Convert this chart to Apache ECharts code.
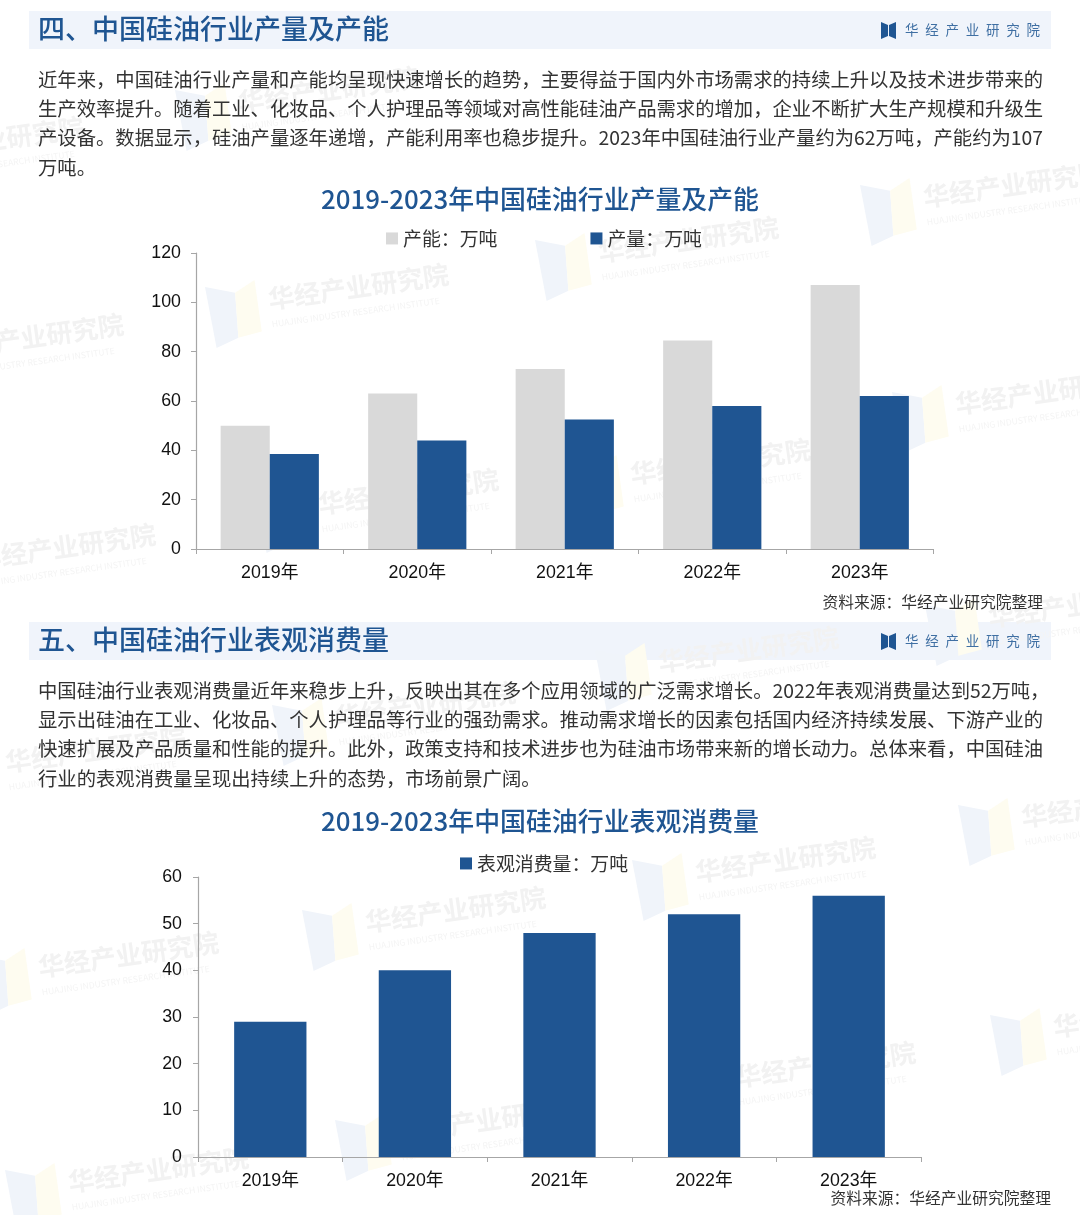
<!DOCTYPE html>
<html lang="zh">
<head>
<meta charset="utf-8">
<title>中国硅油行业</title>
<style>html,body{margin:0;padding:0;background:#fff}#c{width:1080px;height:1215px}</style>
<script src="https://cdn.jsdelivr.net/npm/echarts@6/dist/echarts.min.js"></script>
</head>
<body>
<div id="c"></div>
<script>
const years1 = ['2019年','2020年','2021年','2022年','2023年'];
const capacity = [50, 63, 73, 84.5, 107];
const production = [38.5, 44, 52.5, 58, 62];
const years2 = ['2019年','2020年','2021年','2022年','2023年'];
const consumption = [29, 40, 48, 52, 56];

const section1Title = '四、中国硅油行业产量及产能';
const section2Title = '五、中国硅油行业表观消费量';
const chart1Title = '2019-2023年中国硅油行业产量及产能';
const chart2Title = '2019-2023年中国硅油行业表观消费量';
const sourceText = '资料来源：华经产业研究院整理';
const brandText = '华\u2002经\u2002产\u2002业\u2002研\u2002究\u2002院';
const para1 = [
 '近年来，中国硅油行业产量和产能均呈现快速增长的趋势，主要得益于国内外市场需求的持续上升以及技术进步带来的',
 '生产效率提升。随着工业、化妆品、个人护理品等领域对高性能硅油产品需求的增加，企业不断扩大生产规模和升级生',
 '产设备。数据显示，硅油产量逐年递增，产能利用率也稳步提升。2023年中国硅油行业产量约为62万吨，产能约为107',
 '万吨。'
];
const para2 = [
 '中国硅油行业表观消费量近年来稳步上升，反映出其在多个应用领域的广泛需求增长。2022年表观消费量达到52万吨，',
 '显示出硅油在工业、化妆品、个人护理品等行业的强劲需求。推动需求增长的因素包括国内经济持续发展、下游产业的',
 '快速扩展及产品质量和性能的提升。此外，政策支持和技术进步也为硅油市场带来新的增长动力。总体来看，中国硅油',
 '行业的表观消费量呈现出持续上升的态势，市场前景广阔。'
];
const wmName = '华经产业研究院';
const wmSub = 'HUAJING INDUSTRY RESEARCH INSTITUTE';

const CJK = '"Noto Sans CJK SC","Noto Sans",sans-serif';
const LAT = '"Liberation Sans","Noto Sans CJK SC",sans-serif';
const BLUE = '#1f5592', GRAY = '#d9d9d9', AXIS = '#a6a6a6';

const wmSpots = [[175,90],[-160,140],[205,287],[535,240],[860,185],[-120,337],[892,392],[567,462],[255,492],[-88,547],
 [595,650],[925,605],[272,705],[-58,750],[632,860],[302,910],[-25,955],[958,805],[990,1015],[672,1065],[335,1120],[5,1170]];

function watermark(p){
  return {type:'group',x:p[0],y:p[1],rotation:8*Math.PI/180,z:-10,silent:true,children:[
    {type:'polygon',z:-10,shape:{points:[[0,0],[29,10],[26,55],[3,62]]},style:{fill:'#f0f4fa'}},
    {type:'polygon',z:-10,shape:{points:[[29,10],[50,0],[50,52],[26,55]]},style:{fill:'#fefcf0'}},
    {type:'text',z:-10,x:61,y:21,style:{text:wmName,font:'bold 26px '+CJK,fill:'#f2f2f2',verticalAlign:'middle'}},
    {type:'text',z:-10,x:61,y:46,style:{text:wmSub,font:'8.6px '+CJK,fill:'#f4f4f4',verticalAlign:'middle'}}
  ]};
}
function txt(x,y,t,font,fill,align){
  return {type:'text',x:x,y:y,z:5,style:{text:t,font:font,fill:fill,align:align||'left',verticalAlign:'middle'}};
}
function header(y,t){
  return [
    {type:'rect',z:-20,shape:{x:29,y:y,width:1022,height:38},style:{fill:'#f0f4fb'}},
    txt(38,y+18,t,'500 27px '+CJK,BLUE),
    {type:'polygon',z:5,shape:{points:[[881,y+11],[888,y+14],[888,y+25],[881,y+28]]},style:{fill:BLUE}},
    {type:'polygon',z:5,shape:{points:[[896,y+11],[889,y+14],[889,y+25],[896,y+28]]},style:{fill:BLUE}},
    txt(905,y+19,brandText,'13.5px '+CJK,'#3f6fa3')
  ];
}
function para(lines,ys){
  return lines.map((l,i)=>txt(38,ys[i],l,'19.33px '+CJK,'#333333'));
}

const graphics = [].concat(
  wmSpots.map(watermark),
  header(11,section1Title),
  header(622,section2Title),
  para(para1,[80,109,138,168]),
  para(para2,[691,720,749,779]),
  [txt(1043,602,sourceText,'15.75px '+CJK,'#333333','right'),
   txt(1051,1198,sourceText,'15.75px '+CJK,'#333333','right')]
);

function xAx(idx,data){
  return {type:'category',gridIndex:idx,data:data,
    axisLine:{show:true,lineStyle:{color:AXIS,width:1.2}},
    axisTick:{show:true,alignWithLabel:false,length:5,lineStyle:{color:AXIS}},
    axisLabel:{color:'#111',fontFamily:LAT,fontSize:17.8,margin:15}};
}
function yAx(idx,max,step,margin){
  return {type:'value',gridIndex:idx,min:0,max:max,interval:step,
    axisLine:{show:true,lineStyle:{color:AXIS,width:1.2}},
    axisTick:{show:true,length:5,lineStyle:{color:AXIS}},
    splitLine:{show:false},
    axisLabel:{color:'#111',fontFamily:LAT,fontSize:17.8,margin:margin}};
}
const legendText = {color:'#333',fontFamily:CJK,fontSize:18.9,padding:[0,0,0,0]};

const option = {
  backgroundColor:'#ffffff',
  animation:false,
  title:[
    {text:chart1Title,left:'center',top:181,padding:0,textStyle:{color:BLUE,fontFamily:CJK,fontWeight:500,fontSize:25.9,lineHeight:36}},
    {text:chart2Title,left:'center',top:803,padding:0,textStyle:{color:BLUE,fontFamily:CJK,fontWeight:500,fontSize:25.9,lineHeight:36}}
  ],
  legend:[
    {left:386,top:229,padding:0,icon:'rect',itemWidth:12,itemHeight:12,itemGap:93,data:['产能：万吨','产量：万吨'],textStyle:legendText},
    {left:460,top:854,padding:0,icon:'rect',itemWidth:12,itemHeight:12,data:['表观消费量：万吨'],textStyle:legendText}
  ],
  grid:[
    {left:196,top:253,width:737.5,height:296},
    {left:198,top:877,width:723,height:280}
  ],
  xAxis:[xAx(0,years1),xAx(1,years2)],
  yAxis:[yAx(0,120,20,15),yAx(1,60,10,16)],
  graphic:{elements:graphics},
  series:[
    {name:'产能：万吨',type:'bar',xAxisIndex:0,yAxisIndex:0,data:capacity,barWidth:'33.3%',barGap:0,itemStyle:{color:GRAY}},
    {name:'产量：万吨',type:'bar',xAxisIndex:0,yAxisIndex:0,data:production,barWidth:'33.3%',barGap:0,itemStyle:{color:BLUE}},
    {name:'表观消费量：万吨',type:'bar',xAxisIndex:1,yAxisIndex:1,data:consumption,barWidth:'50%',itemStyle:{color:BLUE}}
  ]
};
echarts.init(document.getElementById('c')).setOption(option);
</script>
</body>
</html>
